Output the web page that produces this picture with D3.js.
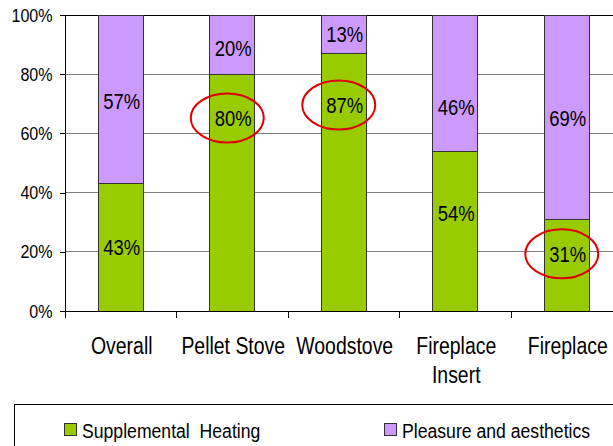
<!DOCTYPE html>
<html><head><meta charset="utf-8">
<script src="https://cdn.jsdelivr.net/npm/d3@7"></script>
<style>
body{margin:0;background:#fff;}
svg{display:block;font-family:"Liberation Sans",Arial,sans-serif;}
</style></head>
<body>
<svg id="c" width="613" height="446"></svg>
<script>
const categories = [["Overall"], ["Pellet Stove"], ["Woodstove"], ["Fireplace", "Insert"], ["Fireplace"]];
const supplemental = [43, 80, 87, 54, 31];
const pleasure = [57, 20, 13, 46, 69];
const seriesNames = ["Supplemental  Heating", "Pleasure and aesthetics"];
const yTicks = [0, 20, 40, 60, 80, 100];
// label anchor values (in percent units) as placed in the original chart
const supplementalLabelAt = [21.6, 65.2, 69.6, 33.1, 19.3];
const pleasureLabelAt = [71, 88.9, 93.6, 68.9, 65.2];
const circled = [false, true, true, false, true];

(function(){
const colors = ["#99CC00", "#CC99FF"];
const svg = d3.select("#c");
const mLeft = 65, mTop = 15, mBottom = 311, bandW = 111.5;

// condensed-text helper: horizontally squeeze text around its anchor point
function narrow(sel, sx) {
  sel.each(function() {
    const t = d3.select(this);
    const x0 = +t.attr("x") || 0, y0 = +t.attr("y") || 0;
    const prev = t.attr("transform") || "";
    t.attr("transform", `${prev} translate(${x0},${y0}) scale(${sx},1)`).attr("x", 0).attr("y", 0);
    t.selectAll("tspan").attr("x", 0);
  });
}

const x = d3.scaleBand().domain(d3.range(categories.length))
  .range([mLeft, mLeft + bandW * categories.length]).paddingInner(0).paddingOuter(0);
const y = d3.scaleLinear().domain([0, 100]).range([mBottom, mTop]);
const mRight = mLeft + bandW * categories.length;
const barW = 45;

// gridlines
svg.append("g").selectAll("line").data(yTicks.filter(t => t > 0)).join("line")
  .attr("x1", mLeft).attr("x2", mRight)
  .attr("y1", d => y(d)).attr("y2", d => y(d))
  .attr("stroke", d => d === 100 ? "#000" : "#808080").attr("stroke-width", 1)
  .attr("shape-rendering", "crispEdges");

// y axis
const yAxis = d3.axisLeft(y).tickValues(yTicks).tickFormat(d => d + "%").tickSize(5).tickPadding(8);
const gy = svg.append("g").attr("transform", `translate(${mLeft},0)`).call(yAxis);
gy.selectAll("path,line").attr("stroke", "#000").attr("shape-rendering", "crispEdges");
gy.select(".domain").attr("d", `M-5,${mTop}H0V${mBottom}H-5`);
gy.selectAll("text").attr("font-size", 19).attr("fill", "#000").attr("font-family", null).attr("x", -12.5);
narrow(gy.selectAll("text"), 0.845);

// bars
const stacks = categories.map((c, i) => ({ i, s: supplemental[i], p: pleasure[i] }));
const bars = svg.append("g");
bars.selectAll("rect.s").data(stacks).join("rect").attr("class", "s")
  .attr("x", d => x(d.i) + (bandW - barW) / 2).attr("width", barW)
  .attr("y", d => y(d.s)).attr("height", d => y(0) - y(d.s))
  .attr("fill", colors[0]).attr("stroke", "#333").attr("stroke-width", 1)
  .attr("shape-rendering", "crispEdges");
bars.selectAll("rect.p").data(stacks).join("rect").attr("class", "p")
  .attr("x", d => x(d.i) + (bandW - barW) / 2).attr("width", barW)
  .attr("y", d => y(d.s + d.p)).attr("height", d => y(d.s) - y(d.s + d.p))
  .attr("fill", colors[1]).attr("stroke", "#333").attr("stroke-width", 1)
  .attr("shape-rendering", "crispEdges");

// x axis
const xAxisG = svg.append("g");
xAxisG.append("line").attr("x1", mLeft).attr("x2", mRight).attr("y1", mBottom).attr("y2", mBottom)
  .attr("stroke", "#000").attr("shape-rendering", "crispEdges");
xAxisG.selectAll("line.t").data(d3.range(categories.length + 1)).join("line").attr("class", "t")
  .attr("x1", d => mLeft + d * bandW).attr("x2", d => mLeft + d * bandW)
  .attr("y1", mBottom).attr("y2", mBottom + 7)
  .attr("stroke", "#000").attr("shape-rendering", "crispEdges");
const catText = xAxisG.selectAll("text").data(categories).join("text")
  .attr("text-anchor", "middle").attr("font-size", 24).attr("fill", "#000")
  .attr("x", (d, i) => x(i) + bandW / 2 + 1).attr("y", 354);
catText.selectAll("tspan").data(d => d).join("tspan")
  .attr("dy", (d, j) => j === 0 ? 0 : 29).text(d => d);
narrow(catText, 0.81);

// value labels
const lab = svg.append("g").attr("font-size", 22).attr("fill", "#000").attr("text-anchor", "middle");
const ls = lab.selectAll("text.s").data(stacks).join("text").attr("class", "s")
  .attr("x", d => x(d.i) + bandW / 2 + 1).attr("y", d => y(supplementalLabelAt[d.i])).attr("dy", "0.36em")
  .text(d => d.s + "%");
const lp = lab.selectAll("text.p").data(stacks).join("text").attr("class", "p")
  .attr("x", d => x(d.i) + bandW / 2 + 1).attr("y", d => y(pleasureLabelAt[d.i])).attr("dy", "0.36em")
  .text(d => d.p + "%");
narrow(ls, 0.84); narrow(lp, 0.84);

// red ellipses around highlighted labels
svg.append("g").selectAll("ellipse").data(stacks.filter(d => circled[d.i])).join("ellipse")
  .attr("cx", d => x(d.i) + bandW / 2 - 5).attr("cy", d => y(supplementalLabelAt[d.i]))
  .attr("rx", 36.5).attr("ry", 24.5)
  .attr("fill", "none").attr("stroke", "#E00000").attr("stroke-width", 2);

// legend
const lg = svg.append("g");
lg.append("rect").attr("x", 14.5).attr("y", 404.5).attr("width", 620).attr("height", 60)
  .attr("fill", "#fff").attr("stroke", "#000");
const legX = [64, 384];
seriesNames.forEach((n, i) => {
  lg.append("rect").attr("x", legX[i] + 0.5).attr("y", 423.5).attr("width", 12).attr("height", 12)
    .attr("fill", colors[i]).attr("stroke", "#333");
  const t = lg.append("text").attr("x", legX[i] + 18).attr("y", 438).attr("font-size", 21)
    .attr("fill", "#000").style("white-space", "pre").text(n);
  narrow(t, 0.84);
});
})();
</script>
</body></html>
